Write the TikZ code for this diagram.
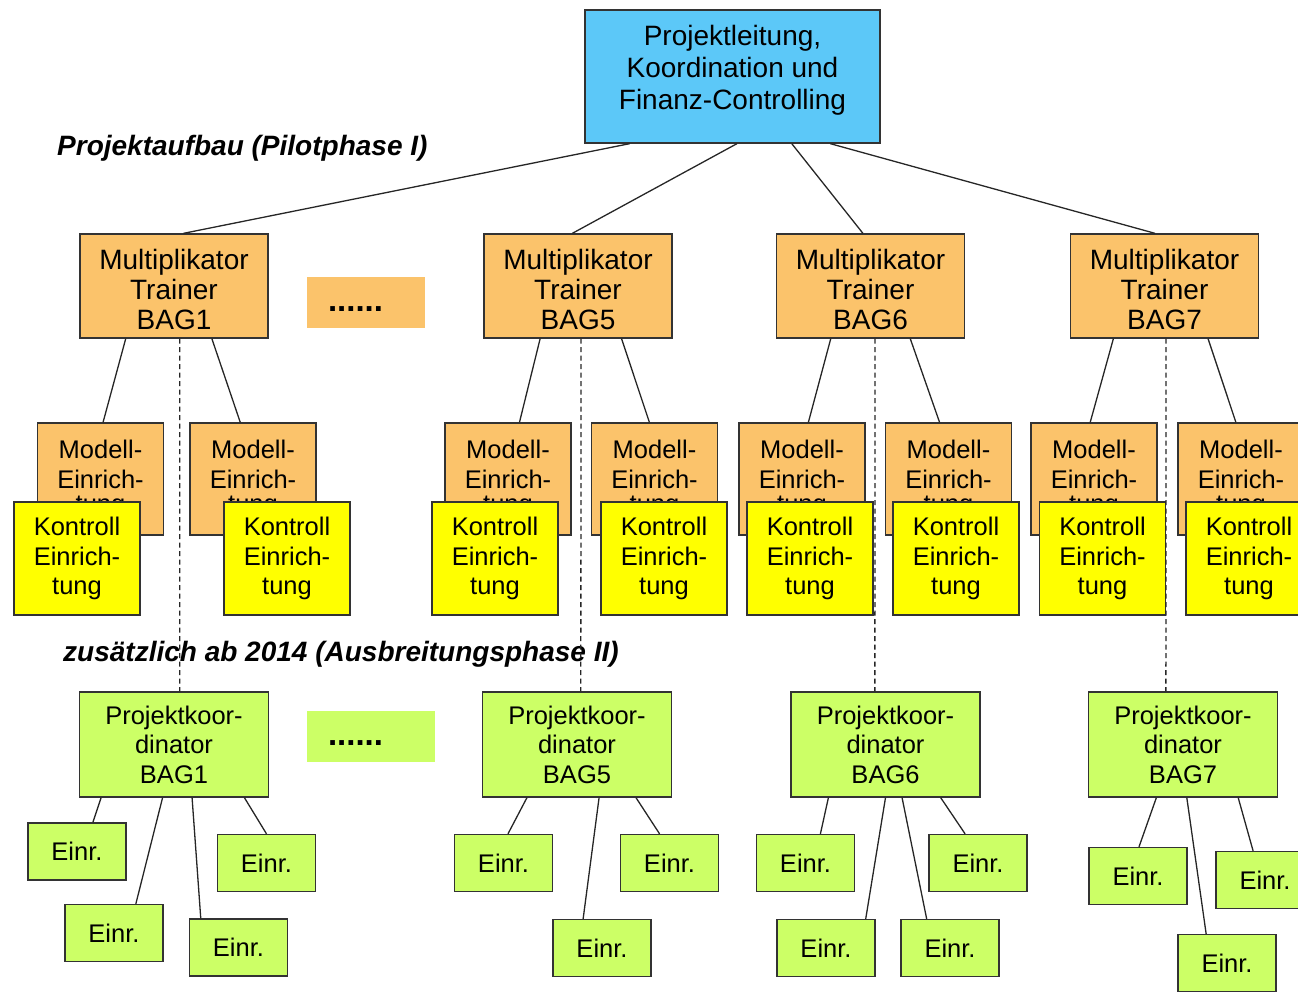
\documentclass[tikz,border=0pt]{standalone}
\usepackage{fontspec}
\setmainfont{Liberation Sans}
\usetikzlibrary{calc}

\definecolor{leadblue}{RGB}{92,200,248}
\definecolor{trainerorange}{RGB}{251,195,107}
\definecolor{checkyellow}{RGB}{255,255,0}
\definecolor{coordgreen}{RGB}{204,255,102}

\newcommand{\joinbox}[5][]{%
  \draw[conn,#1] ($(#2.south west)!#3!(#2.south east)$) -- ($(#4.north west)!#5!(#4.north east)$);}

\begin{document}
\begin{tikzpicture}[x=1pt,y=-1pt,
    box/.style={draw=black!80,line width=1.3pt,inner sep=0pt,align=center,
      font=\fontsize{25.5}{29.5}\selectfont},
    leadbox/.style={box,fill=leadblue,minimum width=295pt,minimum height=133pt,
      font=\fontsize{28}{32}\selectfont},
    trainerbox/.style={box,fill=trainerorange,minimum width=188pt,minimum height=104pt,
      font=\fontsize{28}{30}\selectfont},
    modelbox/.style={box,fill=trainerorange,minimum width=126pt,minimum height=112pt},
    checkbox/.style={box,fill=checkyellow,minimum width=126pt,minimum height=113pt},
    coordbox/.style={box,fill=coordgreen,minimum width=189pt,minimum height=105pt},
    unitbox/.style={box,fill=coordgreen,minimum width=98pt,minimum height=57pt},
    morebox/.style={inner ysep=0pt,inner xsep=21pt,minimum height=51pt,align=left,
      font=\fontsize{33}{36}\selectfont\bfseries},
    phase/.style={anchor=west,inner sep=0pt,font=\fontsize{28}{32}\selectfont\bfseries\itshape},
    conn/.style={line width=1.3pt,black!85},
    trail/.style={dash pattern=on 5pt off 3.5pt}]

  \useasboundingbox (0,0) rectangle (1298,991);
  \clip (0,0) rectangle (1298,991);

  \node[leadbox] (lead) at (732.5,76.5) {Projektleitung,\\Koordination und\\Finanz-Controlling\\[-14pt]\mbox{}};
  \node[phase] (pilot) at (57,148) {Projektaufbau (Pilotphase I)};

  \node[trainerbox] (mult1) at (174,286) {\mbox{}\\[-2pt]Multiplikator\\Trainer\\BAG1};
  \node[trainerbox] (mult5) at (578,286) {\mbox{}\\[-2pt]Multiplikator\\Trainer\\BAG5};
  \node[trainerbox] (mult6) at (870.5,286) {\mbox{}\\[-2pt]Multiplikator\\Trainer\\BAG6};
  \node[trainerbox] (mult7) at (1164.5,286) {\mbox{}\\[-2pt]Multiplikator\\Trainer\\BAG7};
  \node[morebox,fill=trainerorange,text width=76pt] (more1) at (366,302.5) {\raisebox{-9pt}[0pt][0pt]{......}};

  \node[modelbox] (model1a) at (100.5,479) {Modell-\\Einrich-\\[-5pt]tung};
  \node[modelbox] (model1b) at (253,479) {Modell-\\Einrich-\\[-5pt]tung};
  \node[modelbox] (model5a) at (508,479) {Modell-\\Einrich-\\[-5pt]tung};
  \node[modelbox] (model5b) at (654.5,479) {Modell-\\Einrich-\\[-5pt]tung};
  \node[modelbox] (model6a) at (802,479) {Modell-\\Einrich-\\[-5pt]tung};
  \node[modelbox] (model6b) at (948.5,479) {Modell-\\Einrich-\\[-5pt]tung};
  \node[modelbox] (model7a) at (1094,479) {Modell-\\Einrich-\\[-5pt]tung};
  \node[modelbox] (model7b) at (1241,479) {Modell-\\Einrich-\\[-5pt]tung};

  \node[checkbox] (check1a) at (77,558.5) {Kontroll\\Einrich-\\tung};
  \node[checkbox] (check1b) at (287,558.5) {Kontroll\\Einrich-\\tung};
  \node[checkbox] (check5a) at (495,558.5) {Kontroll\\Einrich-\\tung};
  \node[checkbox] (check5b) at (664,558.5) {Kontroll\\Einrich-\\tung};
  \node[checkbox] (check6a) at (810,558.5) {Kontroll\\Einrich-\\tung};
  \node[checkbox] (check6b) at (956,558.5) {Kontroll\\Einrich-\\tung};
  \node[checkbox] (check7a) at (1102.5,558.5) {Kontroll\\Einrich-\\tung};
  \node[checkbox] (check7b) at (1249,558.5) {Kontroll\\Einrich-\\tung};

  \node[phase] (spread) at (63,654) {zusätzlich ab 2014 (Ausbreitungsphase II)};

  \node[coordbox] (coord1) at (174,744.5) {Projektkoor-\\dinator\\BAG1};
  \node[coordbox] (coord5) at (577,744.5) {Projektkoor-\\dinator\\BAG5};
  \node[coordbox] (coord6) at (885.5,744.5) {Projektkoor-\\dinator\\BAG6};
  \node[coordbox] (coord7) at (1183,744.5) {Projektkoor-\\dinator\\BAG7};
  \node[morebox,fill=coordgreen,text width=86pt] (more2) at (371,736.5) {\raisebox{-9pt}[0pt][0pt]{......}};

  \node[unitbox] (unit1a) at (77,851.5) {Einr.};
  \node[unitbox] (unit1b) at (114,933) {Einr.};
  \node[unitbox] (unit1c) at (238.5,947.5) {Einr.};
  \node[unitbox] (unit1d) at (266.5,863) {Einr.};
  \node[unitbox] (unit5a) at (503.5,863) {Einr.};
  \node[unitbox] (unit5b) at (602,948) {Einr.};
  \node[unitbox] (unit5c) at (669.5,863) {Einr.};
  \node[unitbox] (unit6a) at (805.5,863) {Einr.};
  \node[unitbox] (unit6b) at (826,948) {Einr.};
  \node[unitbox] (unit6c) at (950,948) {Einr.};
  \node[unitbox] (unit6d) at (978,863) {Einr.};
  \node[unitbox] (unit7a) at (1138,876) {Einr.};
  \node[unitbox] (unit7b) at (1227,963) {Einr.};
  \node[unitbox] (unit7c) at (1265,880) {Einr.};

  \joinbox{lead}{0.153}{mult1}{0.55}
  \joinbox{lead}{0.515}{mult5}{0.47}
  \joinbox{lead}{0.70}{mult6}{0.46}
  \joinbox{lead}{0.83}{mult7}{0.45}

  \joinbox{mult1}{0.245}{model1a}{0.52}
  \joinbox{mult1}{0.70}{model1b}{0.40}
  \joinbox{mult5}{0.30}{model5a}{0.59}
  \joinbox{mult5}{0.73}{model5b}{0.46}
  \joinbox{mult6}{0.29}{model6a}{0.55}
  \joinbox{mult6}{0.71}{model6b}{0.43}
  \joinbox{mult7}{0.23}{model7a}{0.47}
  \joinbox{mult7}{0.73}{model7b}{0.46}

  \joinbox[trail]{mult1}{0.53}{coord1}{0.53}
  \joinbox[trail]{mult5}{0.516}{coord5}{0.52}
  \joinbox[trail]{mult6}{0.524}{coord6}{0.444}
  \joinbox[trail]{mult7}{0.508}{coord7}{0.41}

  \joinbox{coord1}{0.117}{unit1a}{0.66}
  \joinbox{coord1}{0.44}{unit1b}{0.72}
  \joinbox{coord1}{0.595}{unit1c}{0.12}
  \joinbox{coord1}{0.87}{unit1d}{0.50}
  \joinbox{coord5}{0.237}{unit5a}{0.545}
  \joinbox{coord5}{0.616}{unit5b}{0.31}
  \joinbox{coord5}{0.81}{unit5c}{0.40}
  \joinbox{coord6}{0.20}{unit6a}{0.65}
  \joinbox{coord6}{0.50}{unit6b}{0.90}
  \joinbox{coord6}{0.587}{unit6c}{0.265}
  \joinbox{coord6}{0.79}{unit6d}{0.37}
  \joinbox{coord7}{0.36}{unit7a}{0.51}
  \joinbox{coord7}{0.52}{unit7b}{0.29}
  \joinbox{coord7}{0.79}{unit7c}{0.38}
\end{tikzpicture}
\end{document}
